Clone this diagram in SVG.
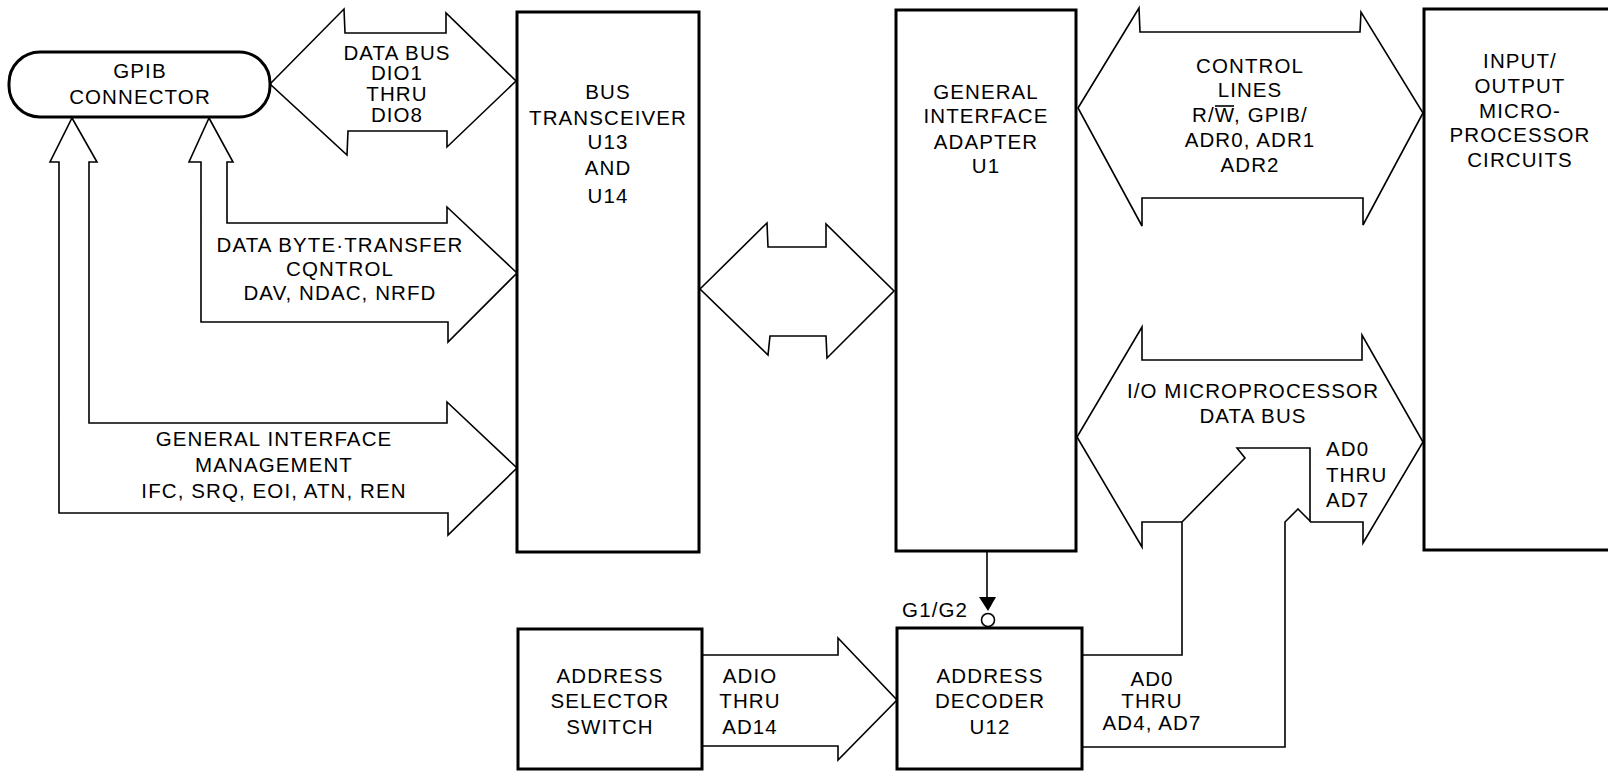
<svg xmlns="http://www.w3.org/2000/svg" width="1608" height="771" viewBox="0 0 1608 771">
<style>
.box{fill:none;stroke:#000;stroke-width:3;stroke-linejoin:miter}
.bus{fill:none;stroke:#000;stroke-width:1.6;stroke-linejoin:miter}
.ln{fill:none;stroke:#000;stroke-width:1.6}
text{font-family:"Liberation Sans",Arial,Helvetica,sans-serif;font-size:20.5px;letter-spacing:1.1px;fill:#000}
.c{text-anchor:middle}
</style>
<rect x="0" y="0" width="1608" height="771" fill="#fff"/>

<g id="connectors">
  <g id="databus">
    <polygon class="bus" points="270,84 344,9 345,33 446,33 446,13 516,81 447,147 447,131 348,131 347,155"/>
    <text class="c" x="397" y="60">DATA BUS</text>
    <text class="c" x="397" y="80">DIO1</text>
    <text class="c" x="397" y="101">THRU</text>
    <text class="c" x="397" y="122">DIO8</text>
  </g>
  <g id="handshake">
    <polygon class="bus" points="209,118 233,162 227,162 227,223 447,223 447,207 517,273 448,342 448,322 201,322 201,162 189,162"/>
    <text class="c" x="340" y="252">DATA BYTE·TRANSFER</text>
    <text class="c" x="340" y="276">CQNTROL</text>
    <text class="c" x="340" y="300">DAV, NDAC, NRFD</text>
  </g>
  <g id="management">
    <polygon class="bus" points="72,118 97,162 89,162 89,423 447,423 447,402 517,468 448,535 448,513 59,513 59,162 50,162"/>
    <text class="c" x="274" y="446">GENERAL INTERFACE</text>
    <text class="c" x="274" y="472">MANAGEMENT</text>
    <text class="c" x="274" y="498">IFC, SRQ, EOI, ATN, REN</text>
  </g>
  <g id="internal-bus">
    <polygon class="bus" points="700,289 767,223 768,247 826,247 826,224 894,291 827,358 826,336 770,336 768,355"/>
  </g>
  <g id="control-lines">
    <polygon class="bus" points="1078,108 1139,8 1140,32 1360,32 1361,12 1423,113 1363,225 1363,198 1142,198 1142,226"/>
    <text class="c" x="1250" y="73">CONTROL</text>
    <text class="c" x="1250" y="97">LINES</text>
    <text class="c" x="1250" y="122">R/W, GPIB/</text>
    <line class="ln" x1="1215" y1="106" x2="1234" y2="106"/>
    <text class="c" x="1250" y="147">ADR0, ADR1</text>
    <text class="c" x="1250" y="172">ADR2</text>
  </g>
  <g id="io-data-bus">
    <path class="bus" d="M1182,522 H1142 V547 L1077,437 L1142,327 V360 H1362 V335 L1423,442 L1363,543 V522 H1310"/>
    <path class="bus" d="M1082,655 H1182 V522 L1245,458 L1237,448 H1310 V522"/>
    <path class="bus" d="M1082,747 H1285 V522 L1298,509 L1310,521"/>
    <text class="c" x="1253" y="398">I/O MICROPROCESSOR</text>
    <text class="c" x="1253" y="423">DATA BUS</text>
    <text x="1326" y="456">AD0</text>
    <text x="1326" y="482">THRU</text>
    <text x="1326" y="507">AD7</text>
    <text class="c" x="1152" y="686">AD0</text>
    <text class="c" x="1152" y="708">THRU</text>
    <text class="c" x="1152" y="730">AD4, AD7</text>
  </g>
  <g id="address-bus">
    <path class="bus" d="M702,655 H838 V638 L897,700 L838,760 V746 H702"/>
    <text class="c" x="750" y="683">ADIO</text>
    <text class="c" x="750" y="708">THRU</text>
    <text class="c" x="750" y="734">AD14</text>
  </g>
  <g id="enable">
    <line class="ln" x1="987" y1="551" x2="987" y2="598"/>
    <polygon points="979,597 996,597 988,611" fill="#000"/>
    <circle cx="988" cy="620" r="6.5" fill="none" stroke="#000" stroke-width="1.6"/>
    <text x="968" y="617" style="text-anchor:end">G1/G2</text>
  </g>
</g>

<g id="gpib-connector">
  <rect class="box" x="9" y="52" width="261" height="65" rx="31" ry="31"/>
  <text class="c" x="140" y="78">GPIB</text>
  <text class="c" x="140" y="104">CONNECTOR</text>
</g>

<g id="bus-transceiver">
  <rect class="box" x="517" y="12" width="182" height="540"/>
  <text class="c" x="608" y="99">BUS</text>
  <text class="c" x="608" y="125">TRANSCEIVER</text>
  <text class="c" x="608" y="149">U13</text>
  <text class="c" x="608" y="175">AND</text>
  <text class="c" x="608" y="203">U14</text>
</g>

<g id="general-interface-adapter">
  <rect class="box" x="896" y="10" width="180" height="541"/>
  <text class="c" x="986" y="99">GENERAL</text>
  <text class="c" x="986" y="123">INTERFACE</text>
  <text class="c" x="986" y="149">ADAPTER</text>
  <text class="c" x="986" y="173">U1</text>
</g>

<g id="io-microprocessor">
  <rect class="box" x="1424" y="9" width="200" height="541"/>
  <text class="c" x="1520" y="68">INPUT/</text>
  <text class="c" x="1520" y="93">OUTPUT</text>
  <text class="c" x="1520" y="118">MICRO-</text>
  <text class="c" x="1520" y="142">PROCESSOR</text>
  <text class="c" x="1520" y="167">CIRCUITS</text>
</g>

<g id="address-selector">
  <rect class="box" x="518" y="629" width="184" height="140"/>
  <text class="c" x="610" y="683">ADDRESS</text>
  <text class="c" x="610" y="708">SELECTOR</text>
  <text class="c" x="610" y="734">SWITCH</text>
</g>

<g id="address-decoder">
  <rect class="box" x="897" y="628" width="185" height="141"/>
  <text class="c" x="990" y="683">ADDRESS</text>
  <text class="c" x="990" y="708">DECODER</text>
  <text class="c" x="990" y="734">U12</text>
</g>
</svg>
